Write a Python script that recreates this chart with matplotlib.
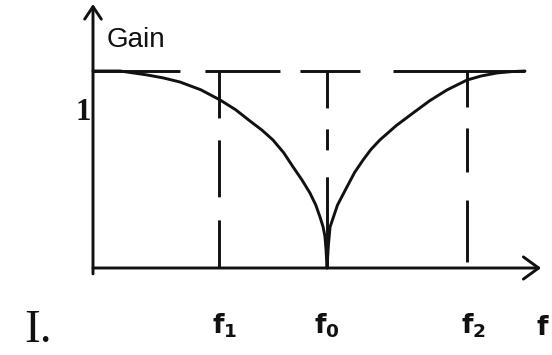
import matplotlib
matplotlib.use('Agg')
import matplotlib.pyplot as plt

plt.rcParams['lines.scale_dashes'] = False
plt.rcParams['mathtext.fontset'] = 'dejavusans'

# ---- data (f0 = 1, unity gain = 1) ----
freq_left = [0.0, 0.115, 0.231, 0.300, 0.372, 0.460, 0.543, 0.610, 0.671, 0.722, 0.769, 0.815, 0.855,
             0.893, 0.927, 0.952, 0.970, 0.983, 0.991, 0.996, 1.0]
gain_left = [1.0, 1.0, 0.98, 0.965, 0.944, 0.905, 0.853, 0.803, 0.746, 0.700, 0.650, 0.585, 0.513,
             0.447, 0.381, 0.320, 0.259, 0.210, 0.162, 0.091, 0.0]
freq_right = [1.0, 1.006, 1.013, 1.045, 1.085, 1.118, 1.154, 1.188, 1.226, 1.295, 1.368, 1.440,
              1.513, 1.598, 1.660, 1.726, 1.790, 1.846]
gain_right = [0.0, 0.117, 0.208, 0.320, 0.411, 0.485, 0.548, 0.602, 0.650, 0.722, 0.787, 0.850,
              0.904, 0.954, 0.975, 0.990, 0.997, 1.0]
marker_freqs = [0.538, 1.0, 1.598]
marker_labels = [r'$\mathbf{f_1}$', r'$\mathbf{f_0}$', r'$\mathbf{f_2}$']
unity_gain = 1.0
unity_label = '1'
y_label = 'Gain'
x_label = r'$\mathbf{f}$'
panel_label = 'I.'

# ---- style / layout ----
K = '#111111'
LW = 2.1
px_x = 234.0   # pixels per frequency unit
px_y = 197.0   # pixels per gain unit
x_end = 1.915
y_end = 1.34
h_dashes = [62.6, 18, 54, 14.4, 43.2, 23.8, 95, 10]
v_dashes = [[33.8, 15.8, 41, 16.6, 33.8, 10],
            [26.6, 15.1, 15.1, 19.4, 65.5, 10],
            [25.9, 15.1, 31.7, 20.2, 44.6, 10]]
label_dx = [-5, -9, -4]   # points
label_base = -0.330

fig = plt.figure(figsize=(5.52, 3.55), dpi=100)
ax = fig.add_axes([0, 0, 1, 1])
ax.set_xlim(-93 / px_x, (552 - 93) / px_x)
ax.set_ylim(-(355 - 268) / px_y, 268 / px_y)
ax.axis('off')

# axes with arrows
ax.annotate('', xy=(x_end, 0), xytext=(0, 0),
            arrowprops=dict(arrowstyle='->,head_length=0.55,head_width=0.4',
                            lw=LW, color=K, mutation_scale=20, shrinkA=0, shrinkB=0))
ax.annotate('', xy=(0, y_end), xytext=(0, -0.03),
            arrowprops=dict(arrowstyle='->,head_length=0.45,head_width=0.3',
                            lw=LW, color=K, mutation_scale=20, shrinkA=0, shrinkB=0))

# unity-gain dashed line
ax.plot([0, freq_right[-1]], [unity_gain, unity_gain], color=K, lw=LW, dashes=h_dashes)

# vertical dashed markers
for f, d in zip(marker_freqs, v_dashes):
    ax.plot([f, f], [unity_gain, 0], color=K, lw=LW, dashes=d)

# response curve
ax.plot(freq_left, gain_left, color=K, lw=LW, solid_joinstyle='round', solid_capstyle='round')
ax.plot(freq_right, gain_right, color=K, lw=LW, solid_joinstyle='round', solid_capstyle='round')

# labels
for f, lab, dx in zip(marker_freqs, marker_labels, label_dx):
    ax.annotate(lab, xy=(f, label_base), xytext=(dx, 0), textcoords='offset points',
                ha='left', va='baseline', fontsize=19, color=K)
ax.text((536 - 93) / px_x, label_base - 0.01, x_label, ha='left', va='baseline',
        fontsize=19, color=K)
ax.text(0.06, 1.122, y_label, ha='left', va='baseline', fontsize=20,
        family='Liberation Sans', color=K)
ax.text(-0.01, 0.751, unity_label, ha='right', va='baseline', fontsize=22,
        family='Liberation Serif', fontweight='bold', color=K)
ax.text(-69 / px_x, -(342 - 268) / px_y, panel_label, ha='left', va='baseline',
        fontsize=34, family='Liberation Serif', color=K)

fig.savefig('out.png', dpi=100, facecolor='white')
